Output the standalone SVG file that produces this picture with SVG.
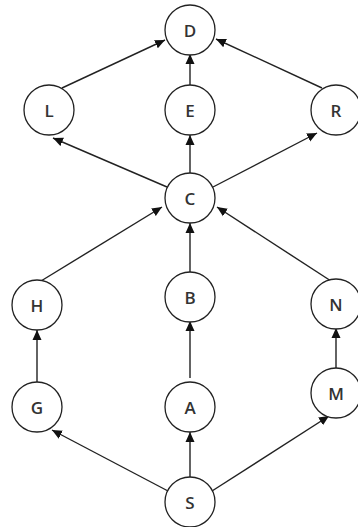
<svg xmlns="http://www.w3.org/2000/svg" width="358" height="527" viewBox="0 0 358 527">
<defs>
<marker id="arr" viewBox="0 0 10 10" refX="10" refY="5" markerWidth="10" markerHeight="10" markerUnits="userSpaceOnUse" orient="auto">
<path d="M0,0.5 L10,5 L0,9.5 Z" fill="#111"/>
</marker>
</defs>
<style>
.n circle{fill:#fff;stroke:#222;stroke-width:1.3}
.n text{font-family:"Open Sans","Liberation Sans",sans-serif;font-size:17px;font-weight:600;fill:#333;text-anchor:middle;dominant-baseline:central}
#edges line{stroke:#222;stroke-width:1.4;marker-end:url(#arr)}
</style>
<rect width="358" height="527" fill="#fff"/>
<g id="edges">
<line x1="62" y1="88" x2="165" y2="40"/>
<line x1="190" y1="86" x2="190" y2="54"/>
<line x1="322" y1="88" x2="216" y2="39"/>
<line x1="167" y1="187" x2="53" y2="138"/>
<line x1="190" y1="174" x2="190" y2="135"/>
<line x1="213" y1="187" x2="317" y2="133"/>
<line x1="41" y1="281" x2="162" y2="207"/>
<line x1="190" y1="273" x2="190" y2="223"/>
<line x1="331" y1="281" x2="217" y2="207"/>
<line x1="37" y1="383" x2="37" y2="330"/>
<line x1="190" y1="378" x2="190" y2="321"/>
<line x1="336" y1="369" x2="336" y2="328"/>
<line x1="168" y1="491" x2="52" y2="430"/>
<line x1="190" y1="478" x2="190" y2="432"/>
<line x1="212" y1="491" x2="329" y2="416"/>
</g>
<g id="D" class="n"><circle cx="190" cy="30" r="25"/><text x="190" y="30">D</text></g>
<g id="L" class="n"><circle cx="49" cy="110" r="25"/><text x="49" y="110">L</text></g>
<g id="E" class="n"><circle cx="190" cy="110" r="25"/><text x="190" y="110">E</text></g>
<g id="R" class="n"><circle cx="336" cy="110" r="25"/><text x="336" y="110">R</text></g>
<g id="C" class="n"><circle cx="190" cy="198" r="25"/><text x="190" y="198">C</text></g>
<g id="H" class="n"><circle cx="37" cy="305" r="25"/><text x="37" y="305">H</text></g>
<g id="B" class="n"><circle cx="190" cy="297" r="25"/><text x="190" y="297">B</text></g>
<g id="N" class="n"><circle cx="336" cy="304" r="25"/><text x="336" y="304">N</text></g>
<g id="G" class="n"><circle cx="37" cy="407" r="25"/><text x="37" y="407">G</text></g>
<g id="A" class="n"><circle cx="190" cy="407" r="25"/><text x="190" y="407">A</text></g>
<g id="M" class="n"><circle cx="336" cy="393" r="25"/><text x="336" y="393">M</text></g>
<g id="S" class="n"><circle cx="190" cy="502" r="25"/><text x="190" y="502">S</text></g>
</svg>
